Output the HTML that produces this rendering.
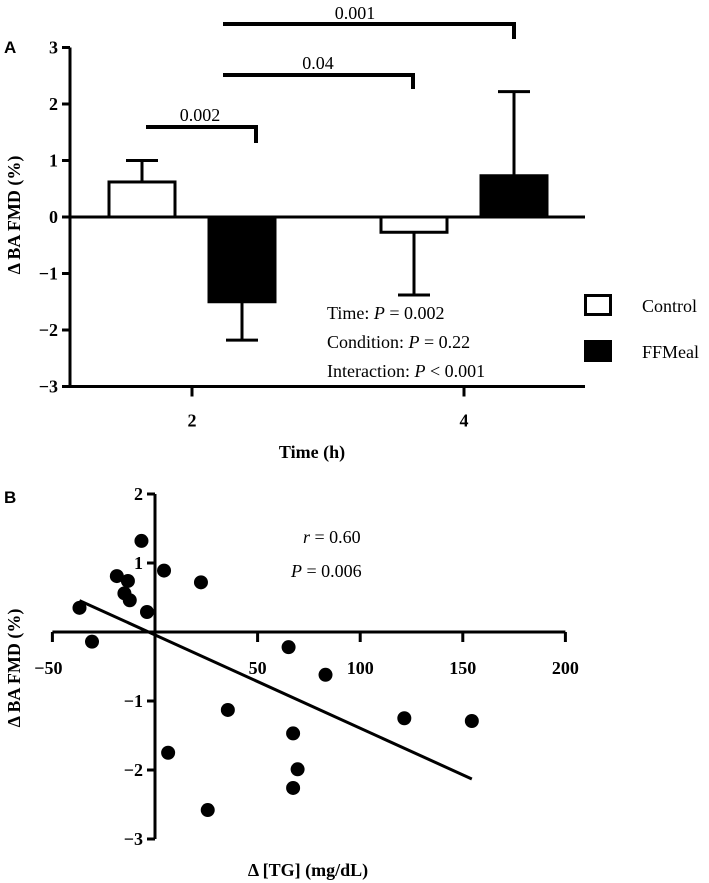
<!DOCTYPE html>
<html><head><meta charset="utf-8"><style>
html,body{margin:0;padding:0;background:#fff;}
svg{display:block;}
text{font-family:"Liberation Serif",serif;fill:#000;}
.tb{font-weight:bold;font-size:18px;}
.t{font-size:18px;}
</style></head><body>
<svg id="chart" width="709" height="883" viewBox="0 0 709 883" xmlns="http://www.w3.org/2000/svg">
<g id="pa"></g>
<g id="pb"></g>
</svg>
<script>
// Panel A data
const timeCats = ["2","4"];
const controlVals = [0.62, -0.27];
const controlErr = [1.0, -1.38];
const ffmealVals = [-1.5, 0.73];
const ffmealErr = [-2.18, 2.22];
const yTicksA = [3,2,1,0,-1,-2,-3];
// Panel B data
const tgVals = [-36.8,-30.7,-18.6,-13.2,-14.9,-12.3,-6.6,-3.9,4.4,22.4,65.1,83.1,35.5,6.4,25.7,67.3,69.5,67.3,121.5,154.4];
const fmdVals = [0.35,-0.14,0.81,0.74,0.56,0.46,1.32,0.29,0.89,0.72,-0.22,-0.62,-1.13,-1.75,-2.58,-1.47,-1.99,-2.26,-1.25,-1.29];
const fitX = [-36.8, 154.4];
const fitY = [0.455, -2.13];
const xTicksB = [-50,0,50,100,150,200];
const xTickLabelsB = ["\u221250","","50","100","150","200"];
const yTicksB = [2,1,0,-1,-2,-3];

const NS="http://www.w3.org/2000/svg";
function mk(parent,tag,attrs,txt){const e=document.createElementNS(NS,tag);for(const k in attrs)e.setAttribute(k,attrs[k]);if(txt!==undefined)e.textContent=txt;parent.appendChild(e);return e;}
function fmt(v){return v<0?"\u2212"+Math.abs(v):String(v);}

// ---- Panel A ----
const A=document.getElementById('pa');
const yA=v=>217-v*56.5;
const catX=[192,464];
const off=[-50,50], bw=69;
let e;
e=mk(A,'text',{x:4,y:53,style:'font-family:"Liberation Sans",sans-serif;font-weight:bold;font-size:17px'},'A');

e=mk(A,'line',{x1:70,y1:yA(3),x2:70,y2:yA(-3)+1.5,stroke:'#000','stroke-width':3});

yTicksA.forEach(t=>{
 let l=mk(A,'line',{x1:62,y1:yA(t),x2:70,y2:yA(t),stroke:'#000','stroke-width':3});
 
 let tx=mk(A,'text',{x:58,y:yA(t)+6,'text-anchor':'end',class:'tb'},fmt(t));
 
});
e=mk(A,'line',{x1:70,y1:yA(-3),x2:585,y2:yA(-3),stroke:'#000','stroke-width':3});

timeCats.forEach((c,i)=>{
 let l=mk(A,'line',{x1:catX[i],y1:yA(-3),x2:catX[i],y2:yA(-3)+10,stroke:'#000','stroke-width':3});
 
 let tx=mk(A,'text',{x:catX[i],y:yA(-3)+40,'text-anchor':'middle',class:'tb'},c);
 
});
function bar(i,val,err,fill,name){
 const cx=catX[i]+off[fill==='#000'?1:0];
 const x=cx-bw/2;
 // error bar
 let el=mk(A,'line',{x1:cx,y1:yA(val),x2:cx,y2:yA(err),stroke:'#000','stroke-width':3});
 
 let cap=mk(A,'line',{x1:cx-16,y1:yA(err),x2:cx+16,y2:yA(err),stroke:'#000','stroke-width':3});
 
 const top=Math.min(yA(val),yA(0)), h=Math.abs(yA(val)-yA(0));
 let r=mk(A,'rect',{x:x+1.5,y:top,width:bw-3,height:h,fill:fill,stroke:'#000','stroke-width':3});
 
}
controlVals.forEach((v,i)=>bar(i,v,controlErr[i],'#fff','bar-control-'+timeCats[i]+'h'));
ffmealVals.forEach((v,i)=>bar(i,v,ffmealErr[i],'#000','bar-ffmeal-'+timeCats[i]+'h'));
e=mk(A,'line',{x1:70,y1:yA(0),x2:585,y2:yA(0),stroke:'#000','stroke-width':3});

// brackets
[[146,256,127,143,'0.002',200,121],[223,413,75,89,'0.04',318,69],[223,514,24,39,'0.001',355,19]].forEach(b=>{
 let p=mk(A,'polyline',{points:`${b[0]},${b[2]} ${b[1]},${b[2]} ${b[1]},${b[3]}`,fill:'none',stroke:'#000','stroke-width':4});
 
 let t=mk(A,'text',{x:b[5],y:b[6],'text-anchor':'middle',class:'t'},b[4]);
 
});
// stats text
e=mk(A,'text',{x:327,y:319,class:'t'});e.innerHTML='Time: <tspan font-style="italic">P</tspan> = 0.002';

e=mk(A,'text',{x:327,y:348,class:'t'});e.innerHTML='Condition: <tspan font-style="italic">P</tspan> = 0.22';

e=mk(A,'text',{x:327,y:377,class:'t'});e.innerHTML='Interaction: <tspan font-style="italic">P</tspan> &lt; 0.001';

// legend
e=mk(A,'rect',{x:585.5,y:295.5,width:25,height:19,fill:'#fff',stroke:'#000','stroke-width':3});

e=mk(A,'text',{x:642,y:312,class:'t'},'Control');

e=mk(A,'rect',{x:584,y:340,width:28,height:22,fill:'#000'});

e=mk(A,'text',{x:642,y:358,class:'t'},'FFMeal');

e=mk(A,'text',{x:20,y:215,'text-anchor':'middle',class:'tb',transform:'rotate(-90 20 215)'},'\u0394 BA FMD (%)');

e=mk(A,'text',{x:312,y:458,'text-anchor':'middle',class:'tb'},'Time (h)');


// ---- Panel B ----
const B=document.getElementById('pb');
const xB=v=>155+v*2.052;
const yB=v=>632-v*69;
e=mk(B,'text',{x:4,y:503,style:'font-family:"Liberation Sans",sans-serif;font-weight:bold;font-size:17px'},'B');

e=mk(B,'line',{x1:155,y1:yB(2),x2:155,y2:yB(-3),stroke:'#000','stroke-width':3});

yTicksB.forEach(t=>{
 let l=mk(B,'line',{x1:147,y1:yB(t),x2:155,y2:yB(t),stroke:'#000','stroke-width':3});
 
 if(t!==0){let tx=mk(B,'text',{x:143,y:yB(t)+6,'text-anchor':'end',class:'tb'},fmt(t));
 }
});
e=mk(B,'line',{x1:xB(-50),y1:yB(0),x2:xB(200),y2:yB(0),stroke:'#000','stroke-width':3});

xTicksB.forEach((t,i)=>{
 let l=mk(B,'line',{x1:xB(t),y1:yB(0),x2:xB(t),y2:yB(0)+10,stroke:'#000','stroke-width':3});
 
 let tx=mk(B,'text',{x:xB(t)+(t===-50?-4:0),y:yB(0)+42,'text-anchor':'middle',class:'tb'},xTickLabelsB[i]);
 
});
tgVals.forEach((v,i)=>{
 let c=mk(B,'circle',{cx:xB(v),cy:yB(fmdVals[i]),r:7,fill:'#000'});
 
});
e=mk(B,'line',{x1:xB(fitX[0]),y1:yB(fitY[0]),x2:xB(fitX[1]),y2:yB(fitY[1]),stroke:'#000','stroke-width':3});

e=mk(B,'text',{x:303,y:543,class:'t'});e.innerHTML='<tspan font-style="italic">r</tspan> = 0.60';

e=mk(B,'text',{x:291,y:577,class:'t'});e.innerHTML='<tspan font-style="italic">P</tspan> = 0.006';

e=mk(B,'text',{x:20,y:668,'text-anchor':'middle',class:'tb',transform:'rotate(-90 20 668)'},'\u0394 BA FMD (%)');

e=mk(B,'text',{x:308,y:876,'text-anchor':'middle',class:'tb'},'\u0394 [TG] (mg/dL)');

</script>
</body></html>
